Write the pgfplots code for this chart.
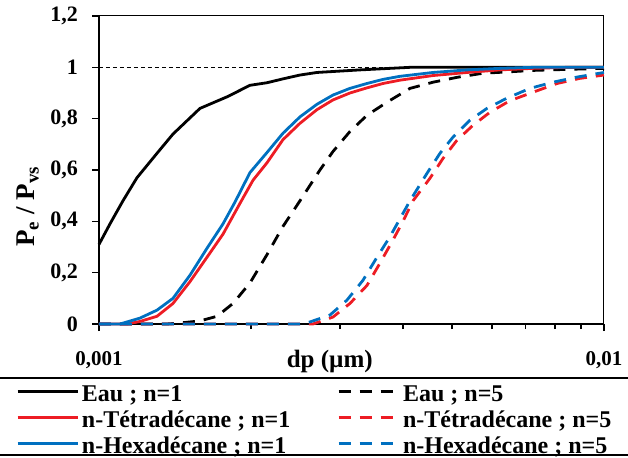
\documentclass[border=0pt]{standalone}
\usepackage{fontspec}
\setmainfont{Liberation Serif}
\usepackage{pgfplots}
\pgfplotsset{compat=1.18}
\definecolor{cred}{RGB}{237,28,36}
\definecolor{cblue}{RGB}{0,112,192}

\begin{document}
\begin{tikzpicture}
\path[use as bounding box] (0pt,0pt) rectangle (628pt,-457pt);
\begin{axis}[
    at={(99pt,-324pt)}, anchor=south west,
    scale only axis, width=505pt, height=308pt,
    xmode=log, xmin=0.001, xmax=0.01, ymin=0, ymax=1.2,
    clip=false,
    xtick={0.001,0.01}, xticklabels={{0,001},{0,01}},
    minor xtick={0.002,0.003,0.004,0.005,0.006,0.007,0.008,0.009},
    ytick={0,0.2,0.4,0.6,0.8,1,1.2},
    yticklabels={0,{0,2},{0,4},{0,6},{0,8},1,{1,2}},
    tick align=outside, tick pos=left,
    major tick length=7pt, minor tick length=5pt,
    tick style={black, line width=1.3pt},
    axis line style={black, line width=1pt},
    xticklabel style={font=\fontsize{21}{24}\selectfont\bfseries, anchor=base, inner sep=0pt, yshift=-34pt},
    yticklabel style={font=\fontsize{22}{24}\selectfont\bfseries, anchor=east, inner sep=0pt, xshift=-14pt},
    xlabel={dp (µm)},
    xlabel style={font=\fontsize{25}{28}\selectfont\bfseries, at={(axis description cs:0.457,0)}, anchor=base, inner sep=0pt, yshift=-43pt},
    ylabel={P\textsubscript{e} / P\textsubscript{vs}},
    ylabel style={font=\fontsize{27}{30}\selectfont\bfseries, at={(axis description cs:-0.1267,0.381)}, anchor=base, inner sep=0pt},
    legend columns=2,
    legend image code/.code={\draw[#1] (0pt,6pt) -- (60pt,6pt);},
    legend style={draw=none, fill=none, inner sep=0pt, anchor=north west,
        at={(axis description cs:-0.1644,-0.1948)},
        font=\fontsize{24}{26}\selectfont\bfseries, row sep=0pt,
        /tikz/every odd column/.style={column sep=3pt},
        /tikz/every even column/.style={column sep=47pt},
        cells={anchor=west},
        nodes={inner sep=0pt, text height=17pt, text depth=9pt}},
    every axis plot/.append style={line width=2.8pt},
]
\draw[black, line width=2.6pt] (rel axis cs:0,1) -- (rel axis cs:0,0) -- (rel axis cs:1,0);
\addplot[black, line width=1pt, dash pattern=on 4pt off 3pt, forget plot]
    coordinates {(0.001,1) (0.01,1)};

% Eau ; n=1
\addplot[black] coordinates {
(0.0010000,0.31) (0.0010514,0.39) (0.0011156,0.48) (0.0011892,0.57)
(0.0013027,0.665) (0.0014014,0.74) (0.0015849,0.84) (0.0017926,0.885)
(0.0019908,0.93) (0.0021510,0.94) (0.0023135,0.955) (0.0025003,0.97)
(0.0027016,0.98) (0.0032866,0.99) (0.0041291,1.0) (0.01,1.0)};
\addlegendentry{Eau ; n=1}

% Eau ; n=5
\addplot[black, dash pattern=on 12pt off 9pt] coordinates {
(0.001,0) (0.0013632,0) (0.0014469,0.004) (0.0015849,0.012)
(0.0017127,0.03) (0.0018424,0.08) (0.0019908,0.16) (0.0021510,0.27)
(0.0023135,0.38) (0.0025003,0.48) (0.0027388,0.6) (0.0029064,0.672)
(0.0031402,0.75) (0.0033931,0.813) (0.0037178,0.864) (0.0041291,0.918)
(0.0045855,0.942) (0.0051157,0.961) (0.0057592,0.977) (0.0064253,0.982)
(0.0072352,0.988) (0.0084475,0.992) (0.01,0.996)};
\addlegendentry{Eau ; n=5}

% n-Tetradecane ; n=1
\addplot[cred] coordinates {
(0.001,0) (0.0011362,0) (0.0012056,0.01) (0.0013027,0.03)
(0.0014014,0.08) (0.0015143,0.165) (0.0016363,0.26) (0.0017602,0.35)
(0.0019021,0.47) (0.0020182,0.56) (0.0021510,0.628) (0.0023135,0.718)
(0.0025003,0.782) (0.0027016,0.835) (0.0029064,0.873) (0.0031402,0.9)
(0.0033931,0.92) (0.0036506,0.937) (0.0039451,0.95) (0.0045855,0.968)
(0.0053540,0.98) (0.0062233,0.99) (0.0072352,0.996) (0.0084475,1.0)
(0.01,1.0)};
\addlegendentry{n-Tétradécane ; n=1}

% n-Tetradecane ; n=5
\addplot[cred, dash pattern=on 12pt off 9pt] coordinates {
(0.001,0) (0.0026528,0) (0.0029064,0.027) (0.0031402,0.08)
(0.0033931,0.15) (0.0036010,0.237) (0.0038210,0.327) (0.0039994,0.4)
(0.0041859,0.48) (0.0045232,0.568) (0.0047995,0.645) (0.0051157,0.716)
(0.0055024,0.774) (0.0059460,0.825) (0.0065138,0.87) (0.0072352,0.903)
(0.0080710,0.937) (0.0089631,0.957) (0.01,0.97)};
\addlegendentry{n-Tétradécane ; n=5}

% n-Hexadecane ; n=1
\addplot[cblue] coordinates {
(0.001,0) (0.0011006,0) (0.0012056,0.023) (0.0013027,0.054)
(0.0014014,0.1) (0.0015143,0.19) (0.0016363,0.295) (0.0017602,0.39)
(0.0018593,0.475) (0.0019908,0.59) (0.0021510,0.668) (0.0023135,0.743)
(0.0025003,0.807) (0.0027016,0.856) (0.0029064,0.892) (0.0031402,0.918)
(0.0033931,0.937) (0.0036506,0.953) (0.0039451,0.965) (0.0045855,0.98)
(0.0053540,0.99) (0.0062233,0.996) (0.0072352,1.0) (0.01,1.0)};
\addlegendentry{n-Hexadécane ; n=1}

% n-Hexadecane ; n=5
\addplot[cblue, dash pattern=on 12pt off 9pt] coordinates {
(0.001,0) (0.0025003,0) (0.0026168,0.008) (0.0028670,0.035)
(0.0030976,0.093) (0.0033318,0.17) (0.0035521,0.26) (0.0037690,0.34)
(0.0039451,0.41) (0.0041291,0.48) (0.0044617,0.587) (0.0047342,0.665)
(0.0050233,0.728) (0.0054277,0.794) (0.0058651,0.84) (0.0064253,0.88)
(0.0071370,0.918) (0.0079251,0.942) (0.0088413,0.962) (0.01,0.98)};
\addlegendentry{n-Hexadécane ; n=5}
\end{axis}
\draw[black, line width=2pt] (0pt,-378pt) -- (628pt,-378pt);
\draw[black, line width=2pt] (0pt,-455pt) -- (628pt,-455pt);
\end{tikzpicture}
\end{document}
